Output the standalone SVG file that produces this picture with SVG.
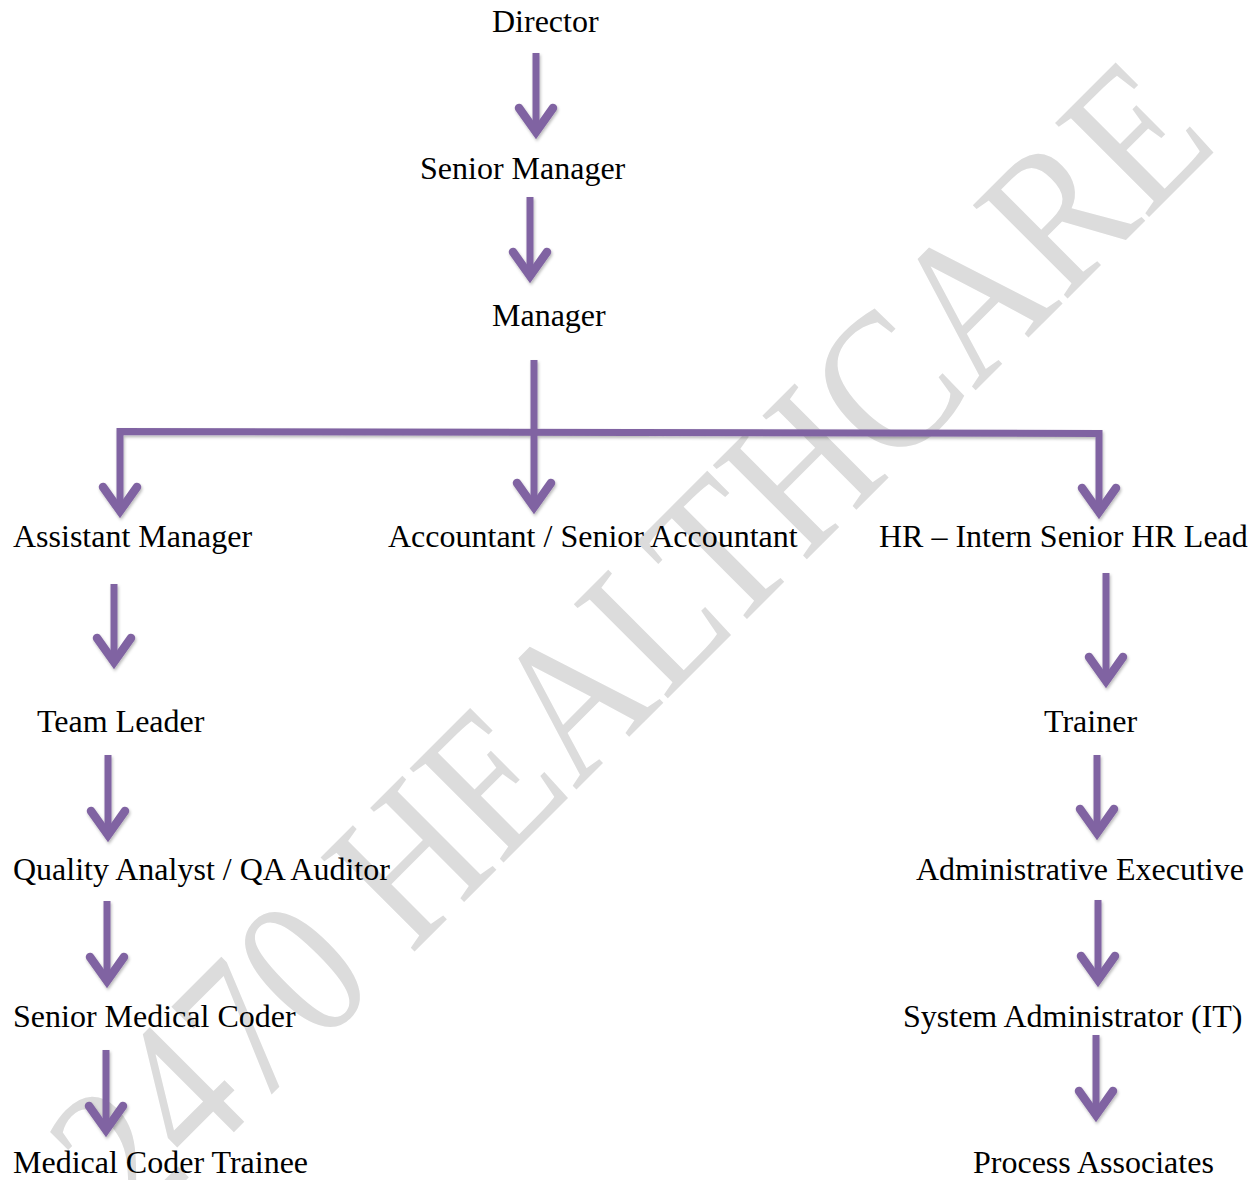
<svg xmlns="http://www.w3.org/2000/svg" width="1260" height="1180" viewBox="0 0 1260 1180">
<style>
.lbl{font-family:"Liberation Serif","Times New Roman",serif;font-size:32px;fill:#000}
.wm{font-family:"Liberation Serif","Times New Roman",serif;font-size:203px;fill:#dcdcdc}
.shaft{fill:none;stroke:#8064a2;stroke-width:7;stroke-linecap:butt}
.head{fill:none;stroke:#8064a2;stroke-width:8.5;stroke-linecap:round;stroke-linejoin:miter;stroke-miterlimit:10}
</style>
<defs>
<filter id="sh" x="-20%" y="-20%" width="140%" height="140%">
<feDropShadow dx="1" dy="2" stdDeviation="1.5" flood-color="#000" flood-opacity="0.28"/>
</filter>
</defs>
<rect width="1260" height="1180" fill="#fff"/>
<g id="watermark">
<text class="wm" transform="translate(134,1232) rotate(-45) scale(0.858,1)">2470 HEALTHCARE</text>
</g>
<g id="connectors" filter="url(#sh)">
<path class="shaft" d="M536,53 V132"/>
<path class="head" d="M519,108 L536,132 L553,108"/>
<path class="shaft" d="M530,197 V276"/>
<path class="head" d="M513,252 L530,276 L547,252"/>
<path class="shaft" d="M534,360 V507"/>
<path class="head" d="M517,483 L534,507 L551,483"/>
<path class="shaft" d="M120,511 V431.5 L1099,433.5 V512"/>
<path class="head" d="M103,487 L120,511 L137,487"/>
<path class="head" d="M1082,488 L1099,512 L1116,488"/>
<path class="shaft" d="M114,584 V662"/>
<path class="head" d="M97,638 L114,662 L131,638"/>
<path class="shaft" d="M108,755 V835"/>
<path class="head" d="M91,811 L108,835 L125,811"/>
<path class="shaft" d="M107,901 V981"/>
<path class="head" d="M90,957 L107,981 L124,957"/>
<path class="shaft" d="M106,1050 V1130"/>
<path class="head" d="M89,1106 L106,1130 L123,1106"/>
<path class="shaft" d="M1106,573 V681"/>
<path class="head" d="M1089,657 L1106,681 L1123,657"/>
<path class="shaft" d="M1097,755 V833"/>
<path class="head" d="M1080,809 L1097,833 L1114,809"/>
<path class="shaft" d="M1098,900 V980"/>
<path class="head" d="M1081,956 L1098,980 L1115,956"/>
<path class="shaft" d="M1096,1035 V1115"/>
<path class="head" d="M1079,1091 L1096,1115 L1113,1091"/>
</g>
<g id="director"><text class="lbl" x="492" y="32">Director</text></g>
<g id="senior-manager"><text class="lbl" x="420" y="179">Senior Manager</text></g>
<g id="manager"><text class="lbl" x="492" y="326">Manager</text></g>
<g id="assistant-manager"><text class="lbl" x="13" y="547">Assistant Manager</text></g>
<g id="accountant"><text class="lbl" x="388" y="547">Accountant / Senior Accountant</text></g>
<g id="hr"><text class="lbl" x="879" y="547">HR – Intern Senior HR Lead</text></g>
<g id="team-leader"><text class="lbl" x="37" y="732">Team Leader</text></g>
<g id="quality-analyst"><text class="lbl" x="13" y="880">Quality Analyst / QA Auditor</text></g>
<g id="senior-medical-coder"><text class="lbl" x="13" y="1027">Senior Medical Coder</text></g>
<g id="medical-coder-trainee"><text class="lbl" x="13" y="1173">Medical Coder Trainee</text></g>
<g id="trainer"><text class="lbl" x="1044" y="732">Trainer</text></g>
<g id="admin-exec"><text class="lbl" x="916" y="880">Administrative Executive</text></g>
<g id="sys-admin"><text class="lbl" x="903" y="1027">System Administrator (IT)</text></g>
<g id="process-associates"><text class="lbl" x="973" y="1173">Process Associates</text></g>
</svg>
